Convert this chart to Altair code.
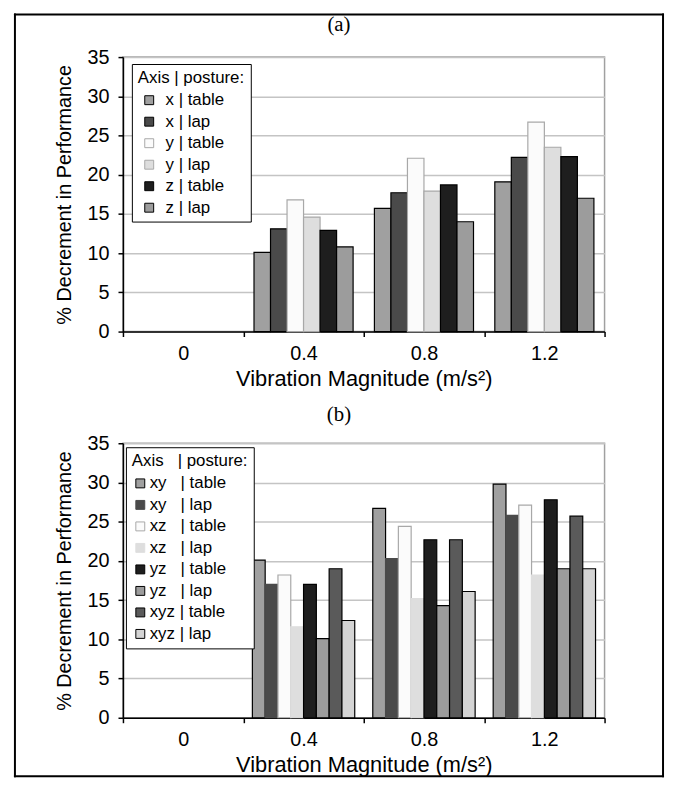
import altair as alt
import pandas as pd

# ---------------- data ----------------
magnitudes = ["0", "0.4", "0.8", "1.2"]

# panel (a)
series_a = ["x | table", "x | lap", "y | table", "y | lap", "z | table", "z | lap"]
a_04 = [10.1, 13.1, 16.8, 14.6, 12.9, 10.8]
a_08 = [15.7, 17.7, 22.1, 17.9, 18.7, 14.0]
a_12 = [19.1, 22.2, 26.7, 23.5, 22.3, 17.0]
fill_a = ["#a0a0a0", "#4a4a4a", "#fbfbfb", "#dedede", "#1e1e1e", "#9c9c9c"]
stroke_a = ["#000000", "#000000", "#a8a8a8", "#a8a8a8", "#000000", "#000000"]

# panel (b)
nb = "\u00a0"
series_b = [
    f"xy{nb*3}| table", f"xy{nb*3}| lap",
    f"xz{nb*3}| table", f"xz{nb*3}| lap",
    f"yz{nb*3}| table", f"yz{nb*3}| lap",
    f"xyz{nb}| table", f"xyz{nb}| lap",
]
b_04 = [20.1, 17.0, 18.2, 11.6, 17.0, 10.1, 19.0, 12.4]
b_08 = [26.7, 20.3, 24.4, 15.2, 22.7, 14.3, 22.7, 16.1]
b_12 = [29.8, 25.8, 27.1, 18.2, 27.8, 19.0, 25.7, 19.0]
fill_b = ["#a0a0a0", "#4a4a4a", "#fbfbfb", "#dedede", "#1e1e1e", "#9c9c9c", "#5a5a5a", "#d4d4d4"]
stroke_b = ["#000000", "#4a4a4a", "#a8a8a8", "#dedede", "#000000", "#000000", "#000000", "#000000"]

y_ticks = [0, 5, 10, 15, 20, 25, 30, 35]


def long_df(series, groups):
    rows = []
    for mag, vals in groups:
        for s, v in zip(series, vals):
            rows.append({"mag": mag, "series": s, "value": v})
    return pd.DataFrame(rows)


df_a = long_df(series_a, [("0.4", a_04), ("0.8", a_08), ("1.2", a_12)])
df_b = long_df(series_b, [("0.4", b_04), ("0.8", b_08), ("1.2", b_12)])

W, H = 486, 277
GAP = 389.7            # distance between the two plot tops
FONT = "Liberation Sans"
one = pd.DataFrame({"k": [0]})
L, R = -109, 545
TOP, BOTTOM = -43, GAP + 336


def panel(df, series, fills, strokes, title_text, title_y, legend_title, off_pad,
          leg_x, leg_y, leg_pad, sym_off, leg_offset, with_frame):
    legend = alt.Legend(
        orient="none", legendX=leg_x, legendY=leg_y,
        title=legend_title, titleFontWeight="normal", titleFont=FONT,
        titleFontSize=17, titleColor="black", titlePadding=5,
        labelFont=FONT, labelFontSize=17, labelColor="black",
        symbolType="square", symbolSize=81, symbolStrokeWidth=1,
        symbolOffset=sym_off,
        strokeColor="black", fillColor="white", padding=leg_pad,
        rowPadding=3.7, labelOffset=leg_offset,
    )
    bars = alt.Chart(df).mark_bar(strokeWidth=1.2).encode(
        x=alt.X("mag:N", sort=magnitudes,
                scale=alt.Scale(domain=magnitudes, paddingInner=0, paddingOuter=0),
                axis=alt.Axis(title="Vibration Magnitude (m/s²)", labelAngle=0,
                              tickBand="extent", grid=False,
                              domainColor="black", domainWidth=1.5,
                              tickColor="black", tickWidth=1.5, tickSize=5,
                              labelFont=FONT, labelFontSize=20, labelColor="black",
                              labelPadding=7,
                              titleFont=FONT, titleFontSize=22, titleFontWeight="normal",
                              titleColor="black", titlePadding=5)),
        xOffset=alt.XOffset("series:N", sort=series,
                            scale=alt.Scale(domain=series, paddingInner=0,
                                            paddingOuter=off_pad)),
        y=alt.Y("value:Q",
                scale=alt.Scale(domain=[0, 35], nice=False),
                axis=alt.Axis(title="% Decrement in Performance", values=y_ticks,
                              grid=True, gridColor="#c4c4c4", gridWidth=1.5,
                              domainColor="black", domainWidth=1.5,
                              tickColor="black", tickWidth=1.5, tickSize=5,
                              labelFont=FONT, labelFontSize=20, labelColor="black",
                              labelPadding=9,
                              titleFont=FONT, titleFontSize=20, titleFontWeight="normal",
                              titleColor="black", titlePadding=13)),
        fill=alt.Fill("series:N", scale=alt.Scale(domain=series, range=fills), legend=legend),
        stroke=alt.Stroke("series:N", scale=alt.Scale(domain=series, range=strokes), legend=legend),
    )

    layers = [bars]
    if with_frame:
        frame_style = dict(color="black", strokeWidth=2, strokeCap="square")
        layers.append(alt.Chart(one).mark_rule(**frame_style).encode(
            x=alt.value(L), y=alt.value(TOP), y2=alt.value(BOTTOM)))
        layers.append(alt.Chart(one).mark_rule(**frame_style).encode(
            x=alt.value(R), y=alt.value(TOP), y2=alt.value(BOTTOM)))
        layers.append(alt.Chart(one).mark_rule(**frame_style).encode(
            x=alt.value(L), x2=alt.value(R), y=alt.value(TOP)))
        layers.append(alt.Chart(one).mark_rule(**frame_style).encode(
            x=alt.value(L), x2=alt.value(R), y=alt.value(BOTTOM)))
    title_df = pd.DataFrame({"t": [title_text]})
    layers.append(alt.Chart(title_df).mark_text(
        font="Liberation Serif", fontSize=21, color="black",
        align="center", baseline="middle").encode(
        text="t:N", x=alt.value((L + R) / 2), y=alt.value(title_y)))

    return alt.layer(*layers).properties(width=W, height=H)


panel_a = panel(df_a, series_a, fill_a, stroke_a, "(a)", -32, "Axis | posture:", 0.645,
                9, 7, 6, 3, 8, True)
panel_b = panel(df_b, series_b, fill_b, stroke_b, "(b)", -28, f"Axis{nb*3}| posture:", 0.705,
                3, 4, 6, 0, 1, False)

chart = alt.vconcat(panel_a, panel_b, spacing=GAP - H, bounds="flush").resolve_scale(
    fill="independent", stroke="independent", x="independent", xOffset="independent"
).properties(
    padding={"left": 4, "top": 0, "right": 0, "bottom": 0},
    background="white",
).configure_view(stroke="#a0a0a0", strokeWidth=1.5)

chart.save("out.html", embed_options={"renderer": "svg", "actions": False})
